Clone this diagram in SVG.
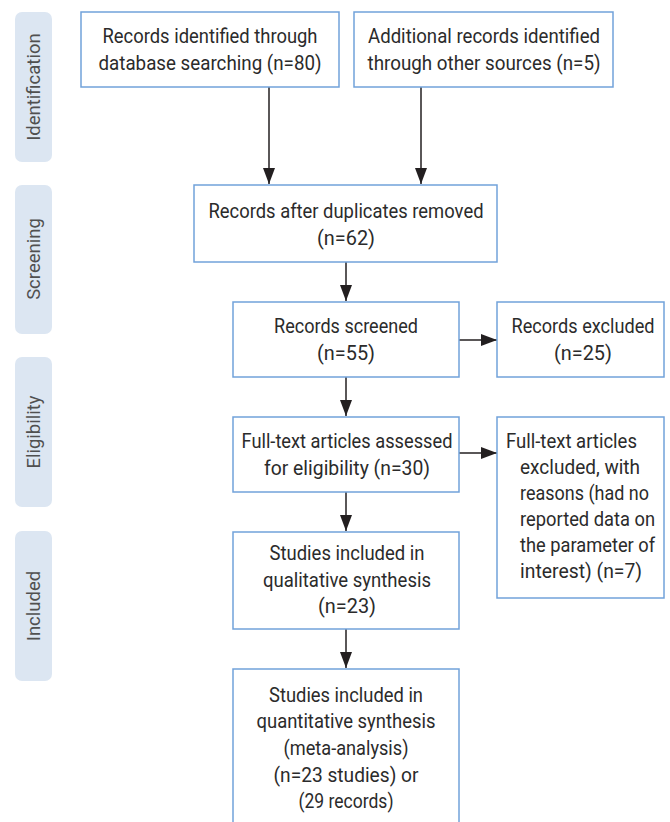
<svg xmlns="http://www.w3.org/2000/svg" width="670" height="822" viewBox="0 0 670 822">
<style>
.band{fill:#dce6f2;}
.bt{font-family:Roboto,"Liberation Sans",sans-serif;font-size:18.5px;fill:#505050;text-anchor:middle;}
.box{fill:#fff;stroke:#72a2da;stroke-width:1.5;}
.t{font-family:Roboto,"Liberation Sans",sans-serif;font-size:21px;fill:#2b2b2b;text-anchor:middle;}
.tl{font-family:Roboto,"Liberation Sans",sans-serif;font-size:21px;fill:#2b2b2b;}
.c{stroke:#231f20;stroke-width:1.5;fill:none;}
</style>
<defs>
<marker id="ah" viewBox="0 0 16 12" refX="16" refY="6" markerWidth="16" markerHeight="12" markerUnits="userSpaceOnUse" orient="auto">
<path d="M0,0 L16,6 L0,12 z" fill="#231f20"/>
</marker>
</defs>
<g id="band-identification"><rect class="band" x="15" y="12" width="37" height="150" rx="7"/><text class="bt" transform="translate(40,87) rotate(-90)">Identification</text></g>
<g id="band-screening"><rect class="band" x="15" y="185" width="37" height="149" rx="7"/><text class="bt" transform="translate(40,259) rotate(-90)">Screening</text></g>
<g id="band-eligibility"><rect class="band" x="15" y="357" width="37" height="150" rx="7"/><text class="bt" transform="translate(40,432) rotate(-90)">Eligibility</text></g>
<g id="band-included"><rect class="band" x="15" y="531" width="37" height="150" rx="7"/><text class="bt" transform="translate(40,606) rotate(-90)">Included</text></g>

<g id="connectors">
<line class="c" x1="269" y1="87" x2="269" y2="184" marker-end="url(#ah)"/>
<line class="c" x1="421" y1="87" x2="421" y2="184" marker-end="url(#ah)"/>
<line class="c" x1="346" y1="262" x2="346" y2="301" marker-end="url(#ah)"/>
<line class="c" x1="459" y1="340" x2="497" y2="340" marker-end="url(#ah)"/>
<line class="c" x1="346" y1="377" x2="346" y2="416" marker-end="url(#ah)"/>
<line class="c" x1="459" y1="453" x2="497" y2="453" marker-end="url(#ah)"/>
<line class="c" x1="346" y1="492" x2="346" y2="531" marker-end="url(#ah)"/>
<line class="c" x1="346" y1="629" x2="346" y2="668" marker-end="url(#ah)"/>
</g>

<g id="n-db"><rect class="box" x="81" y="12" width="258" height="75"/>
<text class="t" x="210" y="43" textLength="215" lengthAdjust="spacingAndGlyphs">Records identified through</text>
<text class="t" x="210" y="70" textLength="223" lengthAdjust="spacingAndGlyphs">database searching (n=80)</text></g>

<g id="n-other"><rect class="box" x="354" y="12" width="259" height="75"/>
<text class="t" x="484" y="43" textLength="232" lengthAdjust="spacingAndGlyphs">Additional records identified</text>
<text class="t" x="484" y="70" textLength="233" lengthAdjust="spacingAndGlyphs">through other sources (n=5)</text></g>

<g id="n-dup"><rect class="box" x="194" y="185" width="303" height="77"/>
<text class="t" x="346" y="218" textLength="275" lengthAdjust="spacingAndGlyphs">Records after duplicates removed</text>
<text class="t" x="346" y="245" textLength="58" lengthAdjust="spacingAndGlyphs">(n=62)</text></g>

<g id="n-screened"><rect class="box" x="233" y="302" width="226" height="75"/>
<text class="t" x="346" y="333" textLength="144" lengthAdjust="spacingAndGlyphs">Records screened</text>
<text class="t" x="346" y="360" textLength="58" lengthAdjust="spacingAndGlyphs">(n=55)</text></g>

<g id="n-excluded"><rect class="box" x="497" y="302" width="167" height="75"/>
<g transform="scale(0.86,1)">
<text class="t" x="677.9" y="333" textLength="166.3" lengthAdjust="spacingAndGlyphs">Records excluded</text>
<text class="t" x="677.9" y="360" textLength="67.4" lengthAdjust="spacingAndGlyphs">(n=25)</text>
</g></g>

<g id="n-fulltext"><rect class="box" x="233" y="417" width="226" height="75"/>
<text class="t" x="347" y="448" textLength="211" lengthAdjust="spacingAndGlyphs">Full-text articles assessed</text>
<text class="t" x="347" y="475" textLength="166" lengthAdjust="spacingAndGlyphs">for eligibility (n=30)</text></g>

<g id="n-ftexcluded"><rect class="box" x="497" y="417" width="167" height="181"/>
<g transform="scale(0.86,1)">
<text class="tl" x="588.4" y="448" textLength="152.3" lengthAdjust="spacingAndGlyphs">Full-text articles</text>
<text class="tl" x="604.7" y="474" textLength="139.5" lengthAdjust="spacingAndGlyphs">excluded, with</text>
<text class="tl" x="604.7" y="500" textLength="150" lengthAdjust="spacingAndGlyphs">reasons (had no</text>
<text class="tl" x="604.7" y="526" textLength="157" lengthAdjust="spacingAndGlyphs">reported data on</text>
<text class="tl" x="604.7" y="552" textLength="157" lengthAdjust="spacingAndGlyphs">the parameter of</text>
<text class="tl" x="604.7" y="578" textLength="141.9" lengthAdjust="spacingAndGlyphs">interest) (n=7)</text>
</g></g>

<g id="n-qual"><rect class="box" x="233" y="532" width="226" height="97"/>
<text class="t" x="347" y="560" textLength="155" lengthAdjust="spacingAndGlyphs">Studies included in</text>
<text class="t" x="347" y="587" textLength="168" lengthAdjust="spacingAndGlyphs">qualitative synthesis</text>
<text class="t" x="347" y="613" textLength="58" lengthAdjust="spacingAndGlyphs">(n=23)</text></g>

<g id="n-quant"><rect class="box" x="233" y="669" width="226" height="180"/>
<text class="t" x="346" y="702" textLength="154" lengthAdjust="spacingAndGlyphs">Studies included in</text>
<text class="t" x="346" y="728" textLength="179" lengthAdjust="spacingAndGlyphs">quantitative synthesis</text>
<text class="t" x="346" y="755" textLength="125" lengthAdjust="spacingAndGlyphs">(meta-analysis)</text>
<text class="t" x="346" y="782" textLength="145" lengthAdjust="spacingAndGlyphs">(n=23 studies) or</text>
<text class="t" x="346" y="808" textLength="95" lengthAdjust="spacingAndGlyphs">(29 records)</text></g>
</svg>
